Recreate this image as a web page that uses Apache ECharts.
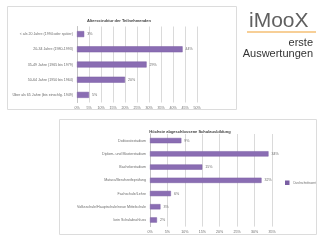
<!DOCTYPE html>
<html><head><meta charset="utf-8">
<script src="https://cdn.jsdelivr.net/npm/echarts@6/dist/echarts.min.js"></script>
<style>html,body{margin:0;padding:0;background:#fff}#c{width:320px;height:240px}</style>
</head><body><div id="c"></div>
<script>
var ageCategories = ['< als 20 Jahre (1994 oder später)', '20-34 Jahre (1980-1993)', '35-49 Jahre (1965 bis 1979)', '50-64 Jahre (1950 bis 1964)', 'Über als 65 Jahre (bis einschlg. 1949)'];
var ageValues = [3, 44, 29, 20, 5];
var eduCategories = ['Doktoratsstudium', 'Diplom- und Masterstudium', 'Bachelorstudium', 'Matura/Berufsreifeprüfung', 'Fachschule/Lehre', 'Volksschule/Hauptschule/neue Mittelschule', 'kein Schulabschluss'];
var eduValues = [9, 34, 15, 32, 6, 3, 2];
var topTitle = 'Altersstruktur der Teilnehmenden';
var bottomTitle = 'Höchste abgeschlossene Schulausbildung';
var legendName = 'Durchschnittswert';

var chart = echarts.init(document.getElementById('c'), null, {renderer: 'canvas'});
var barColor = '#8a6db3';
var txt = '#6a6a6a';
var grid = '#dadada';
function xAx(idx, max) {
  return {gridIndex: idx, type: 'value', min: 0, max: max, interval: 5,
    axisLabel: {formatter: '{value}%', fontSize: 3.6, color: txt, margin: 3},
    axisLine: {show: false}, axisTick: {show: false},
    splitLine: {show: true, lineStyle: {color: grid, width: 1}}};
}
function yAx(idx, cats) {
  return {gridIndex: idx, type: 'category', data: cats, inverse: true,
    axisLabel: {fontSize: 3.6, color: txt, margin: 4},
    axisLine: {show: true, lineStyle: {color: '#c4c4c4'}}, axisTick: {show: false}};
}
chart.setOption({
  animation: false,
  backgroundColor: '#fff',
  title: [
    {text: topTitle, left: 114, top: 14, textAlign: 'center', textStyle: {fontSize: 4, fontWeight: 'bold', color: '#404040', fontFamily: 'Liberation Sans'}},
    {text: bottomTitle, left: 185, top: 125, textAlign: 'center', textStyle: {fontSize: 4, fontWeight: 'bold', color: '#404040', fontFamily: 'Liberation Sans'}}
  ],
  textStyle: {fontFamily: 'Liberation Sans'},
  legend: {data: [legendName], left: 280, top: 175.5, itemWidth: 2.5, itemHeight: 2.5, itemGap: 2,
    textStyle: {fontSize: 2.8, color: txt}, icon: 'rect'},
  grid: [
    {left: 77, top: 26.5, width: 120, height: 76},
    {left: 150, top: 134, width: 122, height: 92.6}
  ],
  xAxis: [xAx(0, 50), xAx(1, 35)],
  yAxis: [yAx(0, ageCategories), yAx(1, eduCategories)],
  series: [
    {name: 'Alter', type: 'bar', xAxisIndex: 0, yAxisIndex: 0, data: ageValues, barWidth: 6,
      itemStyle: {color: barColor, borderColor: '#7a5ea3', borderWidth: 0.5},
      label: {show: true, position: 'right', formatter: '{c}%', fontSize: 3.6, color: txt, distance: 3}},
    {name: legendName, type: 'bar', xAxisIndex: 1, yAxisIndex: 1, data: eduValues, barWidth: 5.3,
      itemStyle: {color: barColor, borderColor: '#7a5ea3', borderWidth: 0.5},
      label: {show: true, position: 'right', formatter: '{c}%', fontSize: 3.6, color: txt, distance: 3}}
  ],
  graphic: [
    {type: 'rect', shape: {x: 7.5, y: 6.5, width: 229, height: 103}, style: {fill: 'none', stroke: '#dcdcdc', lineWidth: 1}, z: -1},
    {type: 'rect', shape: {x: 59.5, y: 119.5, width: 257, height: 115}, style: {fill: 'none', stroke: '#dcdcdc', lineWidth: 1}, z: -1},
    {type: 'text', left: 249, top: 11, style: {text: 'iMooX', fontSize: 21, fill: '#606060', fontFamily: 'Liberation Sans', fontWeight: 'normal'}},
    {type: 'line', shape: {x1: 247, y1: 32, x2: 316, y2: 32}, style: {stroke: '#f0a030', lineWidth: 1.2}},
    {type: 'text', right: 7, top: 37.5, style: {text: 'erste', fontSize: 11, fill: '#333', fontFamily: 'Liberation Sans', align: 'right'}},
    {type: 'text', right: 7, top: 48.5, style: {text: 'Auswertungen', fontSize: 11, fill: '#333', fontFamily: 'Liberation Sans', align: 'right'}}
  ]
});
</script></body></html>
